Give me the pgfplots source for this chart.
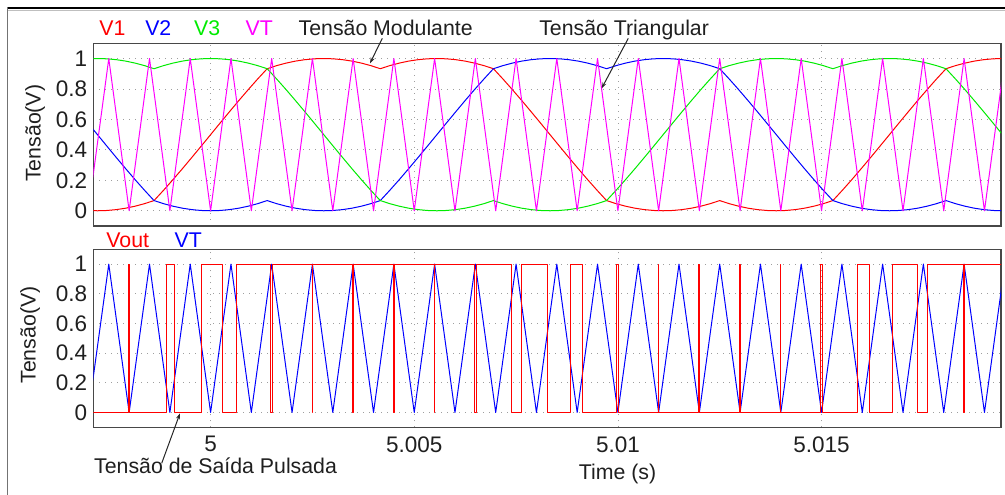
\documentclass[border=0pt]{standalone}
\usepackage{fontspec}
\setmainfont{Liberation Sans}
\usepackage{pgfplots}
\pgfplotsset{compat=1.18}
\usepackage{pgfplotstable}
\usetikzlibrary{arrows.meta}

\definecolor{vred}{RGB}{255,0,0}
\definecolor{vblue}{RGB}{0,0,255}
\definecolor{vgreen}{RGB}{0,235,0}
\definecolor{vmag}{RGB}{255,0,255}

% Modulating signals (space-vector shaped, 60 Hz), time in s
\pgfplotstableread{
t v1 v2 v3
4.996991 0.0019 0.5755 0.9981
4.997222 0.0000 0.5000 1.0000
4.997454 0.0019 0.4245 0.9981
4.997685 0.0076 0.3496 0.9924
4.997917 0.0170 0.2759 0.9830
4.998148 0.0302 0.2038 0.9698
4.998380 0.0468 0.1340 0.9532
4.998611 0.0670 0.0670 0.9330
4.998843 0.1340 0.0468 0.9532
4.999074 0.2038 0.0302 0.9698
4.999306 0.2759 0.0170 0.9830
4.999537 0.3496 0.0076 0.9924
4.999769 0.4245 0.0019 0.9981
5.000000 0.5000 0.0000 1.0000
5.000231 0.5755 0.0019 0.9981
5.000463 0.6504 0.0076 0.9924
5.000694 0.7241 0.0170 0.9830
5.000926 0.7962 0.0302 0.9698
5.001157 0.8660 0.0468 0.9532
5.001389 0.9330 0.0670 0.9330
5.001620 0.9532 0.0468 0.8660
5.001852 0.9698 0.0302 0.7962
5.002083 0.9830 0.0170 0.7241
5.002315 0.9924 0.0076 0.6504
5.002546 0.9981 0.0019 0.5755
5.002778 1.0000 0.0000 0.5000
5.003009 0.9981 0.0019 0.4245
5.003241 0.9924 0.0076 0.3496
5.003472 0.9830 0.0170 0.2759
5.003704 0.9698 0.0302 0.2038
5.003935 0.9532 0.0468 0.1340
5.004167 0.9330 0.0670 0.0670
5.004398 0.9532 0.1340 0.0468
5.004630 0.9698 0.2038 0.0302
5.004861 0.9830 0.2759 0.0170
5.005093 0.9924 0.3496 0.0076
5.005324 0.9981 0.4245 0.0019
5.005556 1.0000 0.5000 0.0000
5.005787 0.9981 0.5755 0.0019
5.006019 0.9924 0.6504 0.0076
5.006250 0.9830 0.7241 0.0170
5.006481 0.9698 0.7962 0.0302
5.006713 0.9532 0.8660 0.0468
5.006944 0.9330 0.9330 0.0670
5.007176 0.8660 0.9532 0.0468
5.007407 0.7962 0.9698 0.0302
5.007639 0.7241 0.9830 0.0170
5.007870 0.6504 0.9924 0.0076
5.008102 0.5755 0.9981 0.0019
5.008333 0.5000 1.0000 0.0000
5.008565 0.4245 0.9981 0.0019
5.008796 0.3496 0.9924 0.0076
5.009028 0.2759 0.9830 0.0170
5.009259 0.2038 0.9698 0.0302
5.009491 0.1340 0.9532 0.0468
5.009722 0.0670 0.9330 0.0670
5.009954 0.0468 0.9532 0.1340
5.010185 0.0302 0.9698 0.2038
5.010417 0.0170 0.9830 0.2759
5.010648 0.0076 0.9924 0.3496
5.010880 0.0019 0.9981 0.4245
5.011111 0.0000 1.0000 0.5000
5.011343 0.0019 0.9981 0.5755
5.011574 0.0076 0.9924 0.6504
5.011806 0.0170 0.9830 0.7241
5.012037 0.0302 0.9698 0.7962
5.012269 0.0468 0.9532 0.8660
5.012500 0.0670 0.9330 0.9330
5.012731 0.0468 0.8660 0.9532
5.012963 0.0302 0.7962 0.9698
5.013194 0.0170 0.7241 0.9830
5.013426 0.0076 0.6504 0.9924
5.013657 0.0019 0.5755 0.9981
5.013889 0.0000 0.5000 1.0000
5.014120 0.0019 0.4245 0.9981
5.014352 0.0076 0.3496 0.9924
5.014583 0.0170 0.2759 0.9830
5.014815 0.0302 0.2038 0.9698
5.015046 0.0468 0.1340 0.9532
5.015278 0.0670 0.0670 0.9330
5.015509 0.1340 0.0468 0.9532
5.015741 0.2038 0.0302 0.9698
5.015972 0.2759 0.0170 0.9830
5.016204 0.3496 0.0076 0.9924
5.016435 0.4245 0.0019 0.9981
5.016667 0.5000 0.0000 1.0000
5.016898 0.5755 0.0019 0.9981
5.017130 0.6504 0.0076 0.9924
5.017361 0.7241 0.0170 0.9830
5.017593 0.7962 0.0302 0.9698
5.017824 0.8660 0.0468 0.9532
5.018056 0.9330 0.0670 0.9330
5.018287 0.9532 0.0468 0.8660
5.018519 0.9698 0.0302 0.7962
5.018750 0.9830 0.0170 0.7241
5.018981 0.9924 0.0076 0.6504
5.019213 0.9981 0.0019 0.5755
5.019444 1.0000 0.0000 0.5000
}\modtable

% Triangular carrier, 1 kHz
\pgfplotstableread{
t vt
4.9970 0
4.9975 1
4.9980 0
4.9985 1
4.9990 0
4.9995 1
5.0000 0
5.0005 1
5.0010 0
5.0015 1
5.0020 0
5.0025 1
5.0030 0
5.0035 1
5.0040 0
5.0045 1
5.0050 0
5.0055 1
5.0060 0
5.0065 1
5.0070 0
5.0075 1
5.0080 0
5.0085 1
5.0090 0
5.0095 1
5.0100 0
5.0105 1
5.0110 0
5.0115 1
5.0120 0
5.0125 1
5.0130 0
5.0135 1
5.0140 0
5.0145 1
5.0150 0
5.0155 1
5.0160 0
5.0165 1
5.0170 0
5.0175 1
5.0180 0
5.0185 1
5.0190 0
5.0195 1
}\carrier

\pgfplotsset{
  scope panel/.style={
    scale only axis, width=907.7pt,
    anchor=south west,
    xmin=4.99712, xmax=5.019406, ymin=-0.1, ymax=1.1,
    xtick={5,5.005,5.01,5.015},
    ytick={0,0.2,0.4,0.6,0.8,1},
    yticklabels={0,0.2,0.4,0.6,0.8,1},
    grid=major,
    major grid style={draw=black!38, line width=0.8pt, dash pattern=on 0.8pt off 5.2pt},
    axis line style={draw=black!72, line width=1.2pt},
    major tick length=0pt,
    /pgf/number format/assume math mode=true,
    tick label style={font=\fontsize{22.5}{26}\selectfont, text=black!88},
    yticklabel style={anchor=east, inner sep=0pt, xshift=-6pt},
    xticklabel style={anchor=north, inner sep=0pt, yshift=-9pt},
    every axis plot/.append style={line width=1pt, line join=round, no marks},
  }
}

\begin{document}
\begin{tikzpicture}[x=1pt,y=1pt]
\useasboundingbox (0,0) rectangle (1005,495);
\fontsize{21.3}{25}\selectfont

% outer window frame
\draw[black!25, line width=0.8pt] (8,485) -- (1005,485);
\draw[black, line width=1.3pt] (7.5,487) -- (1005,487);
\draw[black!55, line width=1.3pt] (7.5,487.6) -- (7.5,0);

% upper panel: modulating signals and carrier
\begin{axis}[scope panel, at={(93.3pt,269pt)}, height=182.7pt, xticklabels={}]
\addplot[vred]   table[x=t, y=v1] {\modtable};
\addplot[vblue]  table[x=t, y=v2] {\modtable};
\addplot[vgreen] table[x=t, y=v3] {\modtable};
\addplot[vmag]   table[x=t, y=vt] {\carrier};
\end{axis}

% lower panel: carrier and pulsed output
\begin{axis}[scope panel, at={(93.3pt,67.7pt)}, height=178pt,
  xticklabels={5,5.005,5.01,5.015}]
\addplot[vblue] table[x=t, y=vt] {\carrier};
\addplot[vred] coordinates {
(4.9971,0) (4.9979896,0) (4.9979896,1) (4.998011,1) (4.998011,0)
(4.9989213,0) (4.9989213,1) (4.9991068,1) (4.9991068,0)
(4.999785,0) (4.999785,1) (5.0002987,1) (5.0002987,0)
(5.0006456,0) (5.0006456,1) (5.0014703,1) (5.0014703,0)
(5.0015273,0) (5.0015273,1) (5.0024986,1) (5.0024986,0)
(5.0025014,0) (5.0025014,1) (5.003491,1) (5.003491,0)
(5.0035094,0) (5.0035094,1) (5.0044797,1) (5.0044797,0)
(5.0045188,0) (5.0045188,1) (5.0054995,1) (5.0054995,0)
(5.0055005,0) (5.0055005,1) (5.0064848,1) (5.0064848,0)
(5.0065162,0) (5.0065162,1) (5.0073993,1) (5.0073993,0)
(5.0076376,0) (5.0076376,1) (5.0082617,1) (5.0082617,0)
(5.0088308,0) (5.0088308,1) (5.009123,1) (5.009123,0)
(5.0099775,0) (5.0099775,1) (5.0100208,1) (5.0100208,0)
(5.0109998,0) (5.0109998,1) (5.0110002,1) (5.0110002,0)
(5.0119865,0) (5.0119865,1) (5.0120144,1) (5.0120144,0)
(5.0129857,0) (5.0129857,1) (5.0130135,1) (5.0130135,0)
(5.0139998,0) (5.0139998,1) (5.0140002,1) (5.0140002,0)
(5.0149792,0) (5.0149792,1) (5.0150225,1) (5.0150225,0)
(5.015877,0) (5.015877,1) (5.0161692,1) (5.0161692,0)
(5.0167383,0) (5.0167383,1) (5.0173624,1) (5.0173624,0)
(5.0176006,0) (5.0176006,1) (5.0184838,1) (5.0184838,0)
(5.0185152,0) (5.0185152,1) (5.0195,1)
};
\end{axis}

% axis titles
\node[rotate=90, text=black!88] at (35,361.7) {Tensão(V)};
\node[rotate=90, text=black!88] at (30,160) {Tensão(V)};
\node[anchor=base, text=black!88] at (617.5,15) {Time (s)};

% series names, upper panel
\node[anchor=base, text=vred]  at (112.5,459.5) {V1};
\node[anchor=base, text=vblue] at (158.3,459.5) {V2};
\node[anchor=base, text=vgreen] at (207.2,459.5) {V3};
\node[anchor=base, text=vmag]  at (259.2,459.5) {VT};
% series names, lower panel
\node[anchor=base, text=vred]  at (127.7,247) {Vout};
\node[anchor=base, text=vblue] at (188.3,247) {VT};

% annotations
\node[anchor=base, text=black!88] at (385.7,459.5) {Tensão Modulante};
\node[anchor=base, text=black!88] at (624.1,459.5) {Tensão Triangular};
\node[anchor=base west, inner sep=0pt, text=black!88] at (94,21.7) {Tensão de Saída Pulsada};
\draw[black!85, line width=1pt, -{Stealth[length=6pt,width=4pt]}] (382.3,456.7) -- (370,431.7);
\draw[black!85, line width=1pt, -{Stealth[length=6pt,width=4pt]}] (628.3,456.7) -- (601.7,406.7);
\draw[black!85, line width=1pt, -{Stealth[length=6pt,width=4pt]}] (161.7,31.7) -- (180,81.7);
\end{tikzpicture}
\end{document}
